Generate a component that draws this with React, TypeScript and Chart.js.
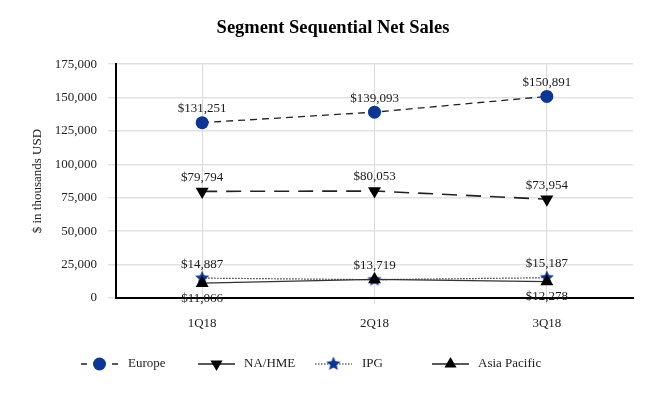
import React, { useEffect, useRef } from 'react';
import { Chart, registerables } from 'chart.js';

Chart.register(...registerables);

const categories = ['1Q18', '2Q18', '3Q18'];
const europe = [131251, 139093, 150891];
const naHme = [79794, 80053, 73954];
const ipg = [14887, 13719, 15187];
const asiaPacific = [11066, 13900, 12278];
const seriesNames = ['Europe', 'NA/HME', 'IPG', 'Asia Pacific'];
// where to show value labels: 'top' | 'bottom' | null
const europeLabels = ['top', 'top', 'top'];
const naHmeLabels = ['top', 'top', 'top'];
const ipgLabels = ['top', 'top', 'top'];
const asiaLabels = ['bottom', null, 'bottom'];
const yMin = 0;
const yMax = 175000;
const yStep = 25000;

const FONT = "'Liberation Serif', 'Times New Roman', serif";
const BLUE = '#0a3796';
const LINE = '#222222';

function makeStar(size: number, color: string) {
  const c = document.createElement('canvas');
  c.width = size;
  c.height = size;
  const ctx = c.getContext('2d')!;
  const cx = size / 2, cy = size / 2;
  const outer = size / 2 - 0.5;
  const inner = outer * 0.45;
  ctx.beginPath();
  for (let i = 0; i < 10; i++) {
    const r = i % 2 === 0 ? outer : inner;
    const a = -Math.PI / 2 + (i * Math.PI) / 5;
    const x = cx + r * Math.cos(a);
    const y = cy + r * Math.sin(a);
    if (i === 0) ctx.moveTo(x, y);
    else ctx.lineTo(x, y);
  }
  ctx.closePath();
  ctx.fillStyle = color;
  ctx.fill();
  return c;
}

function fmt(v: number) {
  return '$' + v.toLocaleString('en-US');
}

export default function App() {
  const ref = useRef<HTMLCanvasElement | null>(null);

  useEffect(() => {
    document.body.style.margin = '0';
    const star = makeStar(16, BLUE);

    const valueLabels = {
      id: 'valueLabels',
      afterDatasetsDraw(chart: any) {
        const ctx = chart.ctx;
        ctx.save();
        ctx.font = `13px ${FONT}`;
        ctx.fillStyle = '#1a1a1a';
        ctx.textAlign = 'center';
        ctx.textBaseline = 'middle';
        chart.data.datasets.forEach((ds: any, di: number) => {
          const meta = chart.getDatasetMeta(di);
          meta.data.forEach((el: any, i: number) => {
            const pos = ds.labelPos[i];
            if (!pos) return;
            const y = pos === 'top' ? el.y - 14 : el.y + 15;
            ctx.fillText(fmt(ds.data[i]), el.x, y);
          });
        });
        ctx.restore();
      },
    };

    const customLegend = {
      id: 'customLegend',
      afterDraw(chart: any) {
        const ctx = chart.ctx;
        const y = 364;
        ctx.save();
        ctx.font = `13px ${FONT}`;
        ctx.textBaseline = 'middle';
        ctx.textAlign = 'left';
        const items = [
          { x: 81, w: 37, dash: [6, 25], lw: 1.5, kind: 'circle', tx: 128 },
          { x: 198, w: 37, dash: [], lw: 1.5, kind: 'down', tx: 244 },
          { x: 315, w: 37, dash: [1.5, 1.5], lw: 1, kind: 'star', tx: 362 },
          { x: 432, w: 37, dash: [], lw: 1.5, kind: 'up', tx: 478 },
        ];
        items.forEach((it, i) => {
          ctx.save();
          ctx.strokeStyle = LINE;
          ctx.lineWidth = it.lw;
          ctx.setLineDash(it.dash);
          ctx.beginPath();
          ctx.moveTo(it.x, y);
          ctx.lineTo(it.x + it.w, y);
          ctx.stroke();
          ctx.restore();
          const cx = it.x + it.w / 2;
          ctx.beginPath();
          if (it.kind === 'circle') {
            ctx.fillStyle = BLUE;
            ctx.arc(cx, y, 6.5, 0, Math.PI * 2);
            ctx.fill();
          } else if (it.kind === 'down' || it.kind === 'up') {
            ctx.fillStyle = '#000';
            const r = 7;
            const s = it.kind === 'down' ? -1 : 1;
            ctx.moveTo(cx, y - s * r);
            ctx.lineTo(cx + r * 0.866, y + s * r * 0.5);
            ctx.lineTo(cx - r * 0.866, y + s * r * 0.5);
            ctx.closePath();
            ctx.fill();
          } else if (it.kind === 'star') {
            ctx.drawImage(star, cx - 8, y - 8);
          }
          ctx.fillStyle = '#222';
          ctx.fillText(seriesNames[i], it.tx, y);
        });
        ctx.restore();
      },
    };

    const chart = new Chart(ref.current!, {
      type: 'line',
      data: {
        labels: categories,
        datasets: [
          {
            label: seriesNames[0],
            data: europe,
            labelPos: europeLabels,
            borderColor: LINE,
            borderWidth: 1.3,
            borderDash: [7, 5],
            pointStyle: 'circle',
            pointRadius: 6.5,
            pointBackgroundColor: BLUE,
            pointBorderColor: BLUE,
            pointBorderWidth: 0,
            tension: 0,
            fill: false,
          },
          {
            label: seriesNames[1],
            data: naHme,
            labelPos: naHmeLabels,
            borderColor: LINE,
            borderWidth: 1.6,
            borderDash: [15, 9],
            pointStyle: 'triangle',
            rotation: 180,
            pointRadius: 7.5,
            pointBackgroundColor: '#000',
            pointBorderColor: '#000',
            pointBorderWidth: 0,
            tension: 0,
            fill: false,
          },
          {
            label: seriesNames[3],
            data: asiaPacific,
            labelPos: asiaLabels,
            borderColor: '#333',
            borderWidth: 1.3,
            pointStyle: 'triangle',
            pointRadius: 7.5,
            pointBackgroundColor: '#000',
            pointBorderColor: '#000',
            pointBorderWidth: 0,
            tension: 0,
            fill: false,
          },
          {
            label: seriesNames[2],
            data: ipg,
            labelPos: ipgLabels,
            borderColor: '#333',
            borderWidth: 1.2,
            borderDash: [1.5, 1.5],
            pointStyle: star as any,
            tension: 0,
            fill: false,
          },
        ] as any,
      },
      options: {
        responsive: false,
        animation: false,
        devicePixelRatio: 1,
        layout: { padding: { left: 33, right: 33, top: 0, bottom: 0 } },
        plugins: {
          legend: { display: false },
          tooltip: { enabled: false },
          title: {
            display: true,
            text: 'Segment Sequential Net Sales',
            color: '#000',
            font: { family: FONT, size: 18.5, weight: 'bold' },
            padding: { top: 17, bottom: 25 },
          },
        },
        scales: {
          x: {
            offset: true,
            grid: { offset: false, color: '#d9d9d9', tickLength: 6, drawTicks: true },
            border: { color: '#000', width: 2 },
            ticks: { color: '#222', font: { family: FONT, size: 13 }, padding: 12 },
            afterFit(scale: any) {
              scale.height = 102;
            },
          },
          y: {
            min: yMin,
            max: yMax,
            grid: { color: '#e2e2e2', lineWidth: 1.5, tickLength: 8 },
            border: { color: '#000', width: 2 },
            ticks: {
              stepSize: yStep,
              color: '#222',
              font: { family: FONT, size: 13 },
              padding: 11,
              callback: (v: any) => Number(v).toLocaleString('en-US'),
            },
            title: {
              display: true,
              text: '$ in thousands USD',
              color: '#222',
              font: { family: FONT, size: 13 },
              padding: { top: -3, bottom: 0 },
            },
            afterFit(scale: any) {
              scale.width = 83;
            },
          },
        },
      },
      plugins: [valueLabels, customLegend],
    });
    return () => chart.destroy();
  }, []);

  return (
    <div style={{ width: 666, height: 400 }}>
      <canvas ref={ref} width={666} height={400} />
    </div>
  );
}
